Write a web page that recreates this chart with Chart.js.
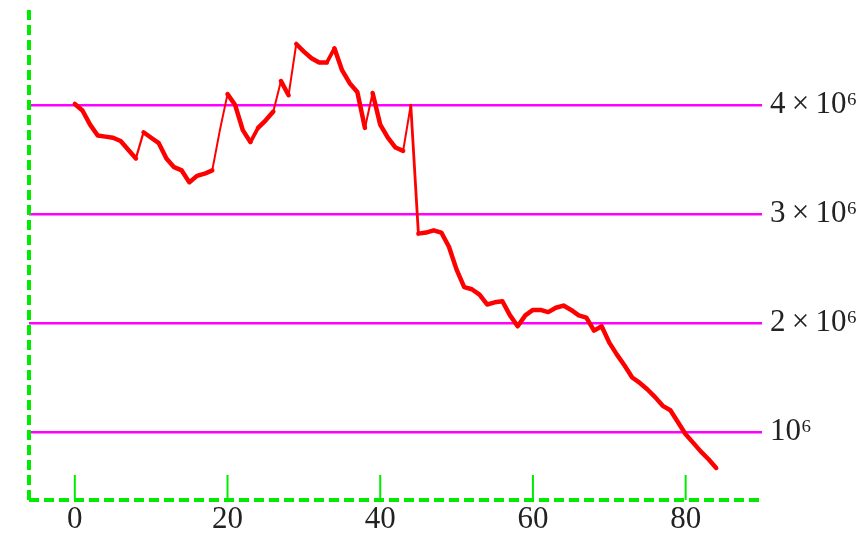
<!DOCTYPE html>
<html><head><meta charset="utf-8">
<script src="https://cdn.jsdelivr.net/npm/chart.js@4"></script>
<style>html,body{margin:0;padding:0;background:#fff}</style>
</head><body>
<canvas id="c" width="867" height="540"></canvas>
<script>
const steps = [0,1,2,3,4,5,6,7,8,9,10,11,12,13,14,15,16,17,18,19,20,21,22,23,24,25,26,27,28,29,30,31,32,33,34,35,36,37,38,39,40,41,42,43,44,45,46,47,48,49,50,51,52,53,54,55,56,57,58,59,60,61,62,63,64,65,66,67,68,69,70,71,72,73,74,75,76,77,78,79,80,81,82,83,84];
const values = [
  4.01e6,3.95e6,3.82e6,3.72e6,3.71e6,3.70e6,3.67e6,3.59e6,3.51e6,3.75e6,
  3.70e6,3.65e6,3.51e6,3.43e6,3.40e6,3.29e6,3.35e6,3.37e6,3.40e6,3.77e6,
  4.10e6,4.00e6,3.77e6,3.66e6,3.79e6,3.86e6,3.94e6,4.22e6,4.09e6,4.56e6,
  4.49e6,4.43e6,4.39e6,4.39e6,4.52e6,4.32e6,4.20e6,4.12e6,3.79e6,4.11e6,
  3.82e6,3.70e6,3.61e6,3.58e6,4.00e6,2.82e6,2.83e6,2.85e6,2.83e6,2.70e6,
  2.49e6,2.33e6,2.31e6,2.26e6,2.17e6,2.19e6,2.20e6,2.07e6,1.97e6,2.07e6,
  2.12e6,2.12e6,2.10e6,2.14e6,2.16e6,2.12e6,2.07e6,2.05e6,1.93e6,1.97e6,
  1.82e6,1.71e6,1.61e6,1.50e6,1.45e6,1.39e6,1.32e6,1.24e6,1.20e6,1.09e6,
  0.98e6,0.90e6,0.82e6,0.75e6,0.67e6
];
const xTicks = [0,20,40,60,80];
const yTicks = [1e6,2e6,3e6,4e6];
const yTickLabels = ['10\u2076','2\u2009\u00d7\u200910\u2076','3\u2009\u00d7\u200910\u2076','4\u2009\u00d7\u200910\u2076'];

const GREEN = 'rgb(0,235,0)';
const MAGENTA = 'rgb(255,0,255)';
const FONT = {family:'"Liberation Serif","Times New Roman",serif', size:31};

const axesAndTicks = {
  id:'axesAndTicks',
  beforeDatasetsDraw(chart){
    const {ctx, chartArea, scales} = chart;
    const x = scales.x;
    ctx.save();
    ctx.strokeStyle = GREEN;
    ctx.lineWidth = 2;
    x.ticks.forEach(t => {
      const px = x.getPixelForValue(t.value);
      ctx.beginPath();
      ctx.moveTo(px, chartArea.bottom);
      ctx.lineTo(px, chartArea.bottom - 25);
      ctx.stroke();
    });
    ctx.lineWidth = 4;
    ctx.setLineDash([10,5]);
    ctx.beginPath();
    ctx.moveTo(chartArea.left, chartArea.top);
    ctx.lineTo(chartArea.left, chartArea.bottom);
    ctx.stroke();
    ctx.beginPath();
    ctx.moveTo(chartArea.left, chartArea.bottom);
    ctx.lineTo(chartArea.right, chartArea.bottom);
    ctx.stroke();
    ctx.restore();
  }
};

new Chart(document.getElementById('c'), {
  type:'line',
  data:{
    datasets:[{
      data: steps.map((s,i)=>({x:s, y:values[i]})),
      borderColor:'rgb(255,0,0)',
      borderWidth:4.5,
      borderCapStyle:'round',
      borderJoinStyle:'round',
      pointRadius:0,
      tension:0,
      fill:false,
      segment:{
        borderWidth: c => {
          const dx = c.p1.x - c.p0.x, dy = c.p1.y - c.p0.y;
          const cos = Math.abs(dx) / Math.hypot(dx, dy);
          if (dy < 0) return Math.max(2, Math.min(4.5, 8*cos));
          return cos < 0.1 ? 2.8 : 4.5;
        }
      }
    }]
  },
  options:{
    responsive:false,
    animation:false,
    events:[],
    layout:{padding:{top:10,left:0,right:0,bottom:0}, autoPadding:false},
    plugins:{legend:{display:false}, tooltip:{enabled:false}},
    scales:{
      x:{
        type:'linear', position:'bottom', min:-6, max:90,
        afterBuildTicks: s => { s.ticks = xTicks.map(v=>({value:v})); },
        afterFit: s => { s.height = 40; s.paddingLeft = 0; s.paddingRight = 0; },
        grid:{display:false, drawTicks:false},
        border:{display:false},
        ticks:{color:'#222', font:FONT, padding:1, maxRotation:0, autoSkip:false}
      },
      yLeft:{
        type:'linear', position:'left', min:376000, max:4872000,
        afterFit: s => { s.width = 29; s.paddingTop = 0; s.paddingBottom = 0; },
        grid:{display:false, drawTicks:false},
        border:{display:false},
        ticks:{display:false}
      },
      y:{
        type:'linear', position:'right', min:376000, max:4872000,
        afterBuildTicks: s => { s.ticks = yTicks.map(v=>({value:v})); },
        afterFit: s => { s.width = 105; s.paddingTop = 0; s.paddingBottom = 0; },
        grid:{color:MAGENTA, lineWidth:2.5, drawTicks:false},
        border:{display:false},
        ticks:{color:'#222', font:FONT, padding:8, autoSkip:false,
          callback: (v) => { const i = yTicks.indexOf(v); return i >= 0 ? yTickLabels[i] : ''; }
        }
      }
    }
  },
  plugins:[axesAndTicks]
});
</script>
</body></html>
